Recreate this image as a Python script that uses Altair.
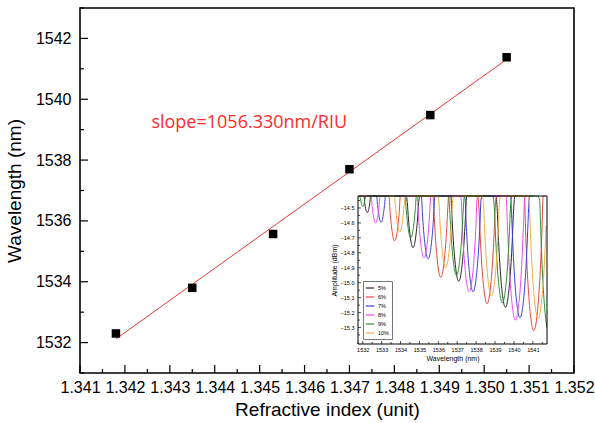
import altair as alt
import pandas as pd

# ---------------- main data ----------------
ri = [1.3418, 1.3435, 1.3453, 1.3470, 1.3488, 1.3505]
wl = [1532.30, 1533.80, 1535.57, 1537.70, 1539.48, 1541.38]
fit_ri = [1.3418, 1.3505]
fit_wl = [1532.12, 1541.31]
slope_text = ["slope=1056.330nm/RIU"]
slope_ri = [1.34259]
slope_wl = [1539.05]

x_major = [1.341, 1.342, 1.343, 1.344, 1.345, 1.346, 1.347, 1.348, 1.349, 1.350, 1.351, 1.352]
x_minor = [1.3415, 1.3425, 1.3435, 1.3445, 1.3455, 1.3465, 1.3475, 1.3485, 1.3495, 1.3505, 1.3515]
y_major = [1532, 1534, 1536, 1538, 1540, 1542]
y_minor = [1531, 1533, 1535, 1537, 1539, 1541, 1543]

# ---------------- inset data ----------------
series = ["5%", "6%", "7%", "8%", "9%", "10%"]
colors = ["#262626", "#e8463c", "#3b3fdc", "#ee4cee", "#2f8f2f", "#f3ad3f"]
dip_centres = {
    "5%": [1532.24, 1534.66, 1537.08, 1539.55],
    "6%": [1531.24, 1533.69, 1536.13, 1538.58, 1541.05],
    "7%": [1532.97, 1535.46, 1537.84, 1540.32],
    "8%": [1532.68, 1535.24, 1537.63, 1540.08],
    "9%": [1532.00, 1534.54, 1536.96, 1539.39, 1541.86],
    "10%": [1533.96, 1536.39, 1538.81, 1541.28],
}
dip_depths = {
    "5%": [-14.53, -14.765, -14.99, -15.165],
    "6%": [-14.45, -14.72, -14.965, -15.14, -15.32],
    "7%": [-14.595, -14.84, -15.06, -15.235],
    "8%": [-14.60, -14.835, -15.06, -15.25],
    "9%": [-14.49, -14.70, -14.95, -15.135, -15.35],
    "10%": [-14.66, -14.90, -15.09, -15.24],
}
# dip profile (offset from dip centre in nm, rise in dB)
profile_offset = [0.0, 0.06, 0.12, 0.18, 0.24, 0.30, 0.36, 0.42, 0.50, 0.60]
profile_rise = [0.0, 0.012, 0.05, 0.11, 0.19, 0.30, 0.44, 0.62, 0.90, 1.30]

in_x_dom = [1531.75, 1541.75]
in_y_dom = [-15.41, -14.42]
in_x_major = [1532, 1533, 1534, 1535, 1536, 1537, 1538, 1539, 1540, 1541]
in_x_minor = [1531.5, 1532.5, 1533.5, 1534.5, 1535.5, 1536.5, 1537.5, 1538.5, 1539.5, 1540.5, 1541.5]
in_y_major = [-14.5, -14.6, -14.7, -14.8, -14.9, -15.0, -15.1, -15.2, -15.3]
in_y_minor = [-14.45, -14.55, -14.65, -14.75, -14.85, -14.95, -15.05, -15.15, -15.25, -15.35]

rows = []
for s in series:
    for c, d in zip(dip_centres[s], dip_depths[s]):
        for o, r in zip(profile_offset, profile_rise):
            for sign in ([1] if o == 0 else [-1, 1]):
                xv = c + sign * o
                if in_x_dom[0] <= xv <= in_x_dom[1]:
                    rows.append({"x": xv, "y": d + r, "series": s})
curves = pd.DataFrame(rows)

# ---------------- layout ----------------
W, H = 494, 365
IN_L, IN_R, IN_T, IN_B = 278, 467, 188, 336
FONT = "Liberation Sans"

pts = pd.DataFrame({"x": ri, "y": wl})
fit = pd.DataFrame({"x": fit_ri, "y": fit_wl})
lab = pd.DataFrame({"x": slope_ri, "y": slope_wl, "t": slope_text})

mx_scale = alt.Scale(domain=[1.341, 1.352], nice=False, zero=False)
my_scale = alt.Scale(domain=[1531, 1543], nice=False, zero=False)
mx_axis = alt.Axis(values=x_major, format=".3f", title="Refractive index (unit)",
                   ticks=False, tickSize=0, domain=False, grid=False,
                   labelFont=FONT, titleFont=FONT, labelFontSize=16, titleFontSize=19,
                   labelColor="black", titleColor="black", titleFontWeight="normal",
                   labelPadding=6, titlePadding=5, labelFlush=False, labelOverlap=False)
my_axis = alt.Axis(values=y_major, format="d", title="Wavelength (nm)",
                   ticks=False, tickSize=0, domain=False, grid=False,
                   labelFont=FONT, titleFont=FONT, labelFontSize=16, titleFontSize=19,
                   labelColor="black", titleColor="black", titleFontWeight="normal",
                   labelPadding=9, titlePadding=11, labelFlush=False, labelOverlap=False)


def MX(f):
    return alt.X(f, type="quantitative", scale=mx_scale, axis=mx_axis)


def MY(f):
    return alt.Y(f, type="quantitative", scale=my_scale, axis=my_axis)


fit_line = alt.Chart(fit).mark_line(color="#e8382e", strokeWidth=1).encode(x=MX("x"), y=MY("y"))
points = alt.Chart(pts).mark_square(size=72, color="black", opacity=1).encode(x=MX("x"), y=MY("y"))
text = alt.Chart(lab).mark_text(align="left", baseline="alphabetic", color="#ff2a2a",
                                font="Open Sans", fontSize=18).encode(x=MX("x"), y=MY("y"), text="t:N")
xt_major = alt.Chart(pd.DataFrame({"x": x_major})).mark_rule(color="black", strokeWidth=1.2).encode(
    x=MX("x"), y=alt.value(H), y2=alt.value(H - 8))
xt_minor = alt.Chart(pd.DataFrame({"x": x_minor})).mark_rule(color="black", strokeWidth=1.2).encode(
    x=MX("x"), y=alt.value(H), y2=alt.value(H - 4))
yt_major = alt.Chart(pd.DataFrame({"y": y_major})).mark_rule(color="black", strokeWidth=1.2).encode(
    y=MY("y"), x=alt.value(0), x2=alt.value(8))
yt_minor = alt.Chart(pd.DataFrame({"y": y_minor})).mark_rule(color="black", strokeWidth=1.2).encode(
    y=MY("y"), x=alt.value(0), x2=alt.value(4))

main = alt.layer(fit_line, points, text, xt_major, xt_minor, yt_major, yt_minor)

# ---------------- inset ----------------
ix_scale = alt.Scale(domain=in_x_dom, range=[IN_L, IN_R], nice=False, zero=False, clamp=True)
iy_scale = alt.Scale(domain=in_y_dom, range=[IN_B, IN_T], nice=False, zero=False, clamp=True)
ix_axis = alt.Axis(orient="bottom", offset=IN_B - H, values=in_x_major, format="d",
                   title="Wavelength (nm)", ticks=False, tickSize=0, domain=False, grid=False,
                   labelFont=FONT, titleFont=FONT, labelFontSize=5.5, titleFontSize=7,
                   labelColor="black", titleColor="black", titleFontWeight="normal",
                   labelPadding=3, titlePadding=2, labelFlush=False, labelOverlap=False)
iy_axis = alt.Axis(orient="left", offset=-IN_L, values=in_y_major, format=".1f",
                   title="Amplitude (dBm)", ticks=False, tickSize=0, domain=False, grid=False,
                   labelFont=FONT, titleFont=FONT, labelFontSize=5.5, titleFontSize=7,
                   labelColor="black", titleColor="black", titleFontWeight="normal",
                   labelPadding=4, titlePadding=3, labelFlush=False, labelOverlap=False)


def IX(f):
    return alt.X(f, type="quantitative", scale=ix_scale, axis=ix_axis)


def IY(f):
    return alt.Y(f, type="quantitative", scale=iy_scale, axis=iy_axis)


frame_df = pd.DataFrame({"x": [in_x_dom[0]], "x1": [in_x_dom[1]], "y": [in_y_dom[0]], "y1": [in_y_dom[1]]})

bg = alt.Chart(frame_df).mark_rect(color="white").encode(x=IX("x"), x2="x1", y=IY("y"), y2="y1")
lines = alt.Chart(curves).mark_line(strokeWidth=1, interpolate="monotone").encode(
    x=IX("x"), y=IY("y"),
    color=alt.Color("series:N", sort=series,
                    scale=alt.Scale(domain=series, range=colors),
                    legend=alt.Legend(orient="none", legendX=IN_L + 5, legendY=IN_T + 85,
                                      title=None, symbolType="stroke", symbolSize=70,
                                      symbolStrokeWidth=1.2, labelFontSize=5.5, labelFont=FONT,
                                      labelColor="black", rowPadding=0, padding=2,
                                      strokeColor="#777777", labelOffset=3)),
    detail="series:N",
)
frame = alt.Chart(frame_df).mark_rect(filled=False, stroke="black", strokeWidth=1).encode(
    x=IX("x"), x2="x1", y=IY("y"), y2="y1")
ixt_major = alt.Chart(pd.DataFrame({"x": in_x_major})).mark_rule(color="black", strokeWidth=0.7).encode(
    x=IX("x"), y=alt.value(IN_B), y2=alt.value(IN_B - 3))
ixt_minor = alt.Chart(pd.DataFrame({"x": in_x_minor})).mark_rule(color="black", strokeWidth=0.7).encode(
    x=IX("x"), y=alt.value(IN_B), y2=alt.value(IN_B - 2))
iyt_major = alt.Chart(pd.DataFrame({"y": in_y_major})).mark_rule(color="black", strokeWidth=0.7).encode(
    y=IY("y"), x=alt.value(IN_L), x2=alt.value(IN_L + 3))
iyt_minor = alt.Chart(pd.DataFrame({"y": in_y_minor})).mark_rule(color="black", strokeWidth=0.7).encode(
    y=IY("y"), x=alt.value(IN_L), x2=alt.value(IN_L + 2))

inset = alt.layer(bg, lines, frame, ixt_major, ixt_minor, iyt_major, iyt_minor)

chart = (
    alt.layer(main, inset)
    .resolve_scale(x="independent", y="independent")
    .resolve_axis(x="independent", y="independent")
    .properties(width=W, height=H, autosize=alt.AutoSizeParams(type="none"),
                padding={"left": 80, "top": 8, "right": 21, "bottom": 50}, background="white")
    .configure_view(stroke="black", strokeWidth=1.6)
)

chart.save("out.html", embed_options={"renderer": "svg", "actions": False})
